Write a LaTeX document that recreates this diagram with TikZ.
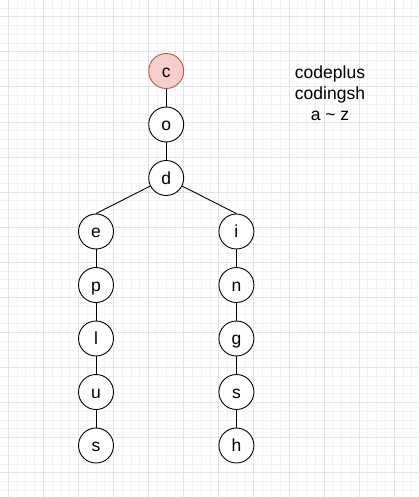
\documentclass[tikz,border=0pt]{standalone}
\usepackage{fontspec}
\setmainfont{Liberation Sans}
\usetikzlibrary{positioning}
\definecolor{rootfill}{HTML}{F8CECC}
\definecolor{rootline}{HTML}{B85450}

\begin{document}
\begin{tikzpicture}[
    x=1pt,y=-1pt,
    node distance=17.6pt,
    letter/.style={circle,draw=black,fill=white,line width=0.9pt,minimum size=35pt,inner sep=0pt,
      text height=15.8pt,text depth=3.7pt,font=\fontsize{17.5}{21}\selectfont},
    root/.style={letter,draw=rootline,fill=rootfill},
    link/.style={draw=black,line width=0.9pt},
    note/.style={align=center,font=\fontsize{17.5}{21}\selectfont},
    minor/.style={draw=gray!10,line width=0.8pt},
    major/.style={draw=gray!22,line width=0.8pt}
    ]
    \useasboundingbox[fill=white] (0,0) rectangle (418,497);
    % grid
    \foreach \i in {0,...,48} \draw[minor] ({-0.47+8.77*\i},0) -- ({-0.47+8.77*\i},497);
    \foreach \i in {0,...,55} \draw[minor] (0,{7.93+8.77*\i}) -- (418,{7.93+8.77*\i});
    \foreach \i in {0,...,11} \draw[major] ({8.3+35.08*\i},0) -- ({8.3+35.08*\i},497);
    \foreach \i in {0,...,13} \draw[major] (0,{16.7+35.08*\i}) -- (418,{16.7+35.08*\i});

    \node (c) [root] at (166.2,71) {c};
    \node (o) [letter,below=of c] {o};
    \node (d) [letter,below=of o] {d};
    % left branch
    \node (e) [letter,below=of d,xshift=-70.2pt] {e};
    \node (p) [letter,below=of e] {p};
    \node (l) [letter,below=of p] {l};
    \node (u) [letter,below=of l] {u};
    \node (s1) [letter,below=of u] {s};
    % right branch
    \node (i) [letter,below=of d,xshift=70.2pt] {i};
    \node (n) [letter,below=of i] {n};
    \node (g) [letter,below=of n] {g};
    \node (s2) [letter,below=of g] {s};
    \node (h) [letter,below=of s2] {h};

    \node (words) [note] at (330,93.5) {codeplus\\codingsh\\a \textasciitilde{} z};

    \draw[link] (c) -- (o);
    \draw[link] (o) -- (d);
    \draw[link] (d) -- (e.north);
    \draw[link] (d) -- (i.north);
    \draw[link] (e) -- (p);
    \draw[link] (p) -- (l);
    \draw[link] (l) -- (u);
    \draw[link] (u) -- (s1);
    \draw[link] (i) -- (n);
    \draw[link] (n) -- (g);
    \draw[link] (g) -- (s2);
    \draw[link] (s2) -- (h);
  \end{tikzpicture}
\end{document}
